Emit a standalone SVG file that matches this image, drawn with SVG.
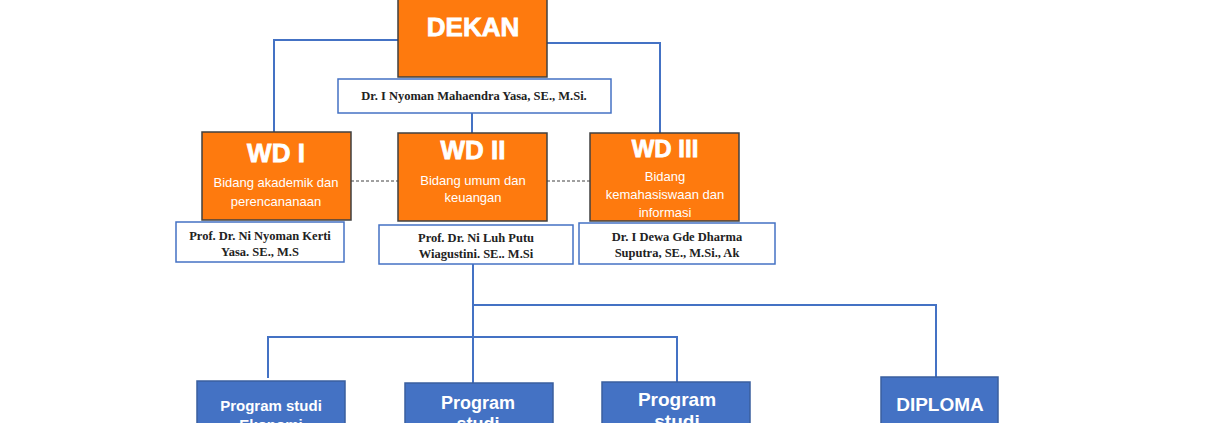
<svg xmlns="http://www.w3.org/2000/svg" width="1210" height="423" viewBox="0 0 1210 423">
<style>
.o{fill:#fe7a0e;stroke:#404040;stroke-width:1.5}
.w{fill:#fff;stroke:#4472c4;stroke-width:1.5}
.b{fill:#4472c4;stroke:#3a5f9e;stroke-width:1.5}
.l{fill:none;stroke:#4472c4;stroke-width:2}
.d{fill:none;stroke:#404040;stroke-width:1;stroke-dasharray:3,2}
.h{font-family:"Liberation Sans",Arial,sans-serif;font-weight:bold;fill:#fff;text-anchor:middle;stroke:#fff;stroke-width:0.8}
.s{font-family:"Liberation Sans",Arial,sans-serif;fill:#fff;text-anchor:middle;font-size:13px}
.n{font-family:"Liberation Serif","Times New Roman",serif;font-weight:bold;fill:#222;text-anchor:middle;font-size:12.5px}
.p{font-family:"Liberation Sans",Arial,sans-serif;font-weight:bold;fill:#fff;text-anchor:middle}
</style>
<rect width="1210" height="423" fill="#fff"/>
<g id="connectors">
<polyline class="l" points="398,40 274,40 274,132"/>
<polyline class="l" points="547,43 660,43 660,133"/>
<line class="l" x1="472" y1="113" x2="472" y2="133"/>
<line class="d" x1="351" y1="181" x2="398" y2="181"/>
<line class="d" x1="547" y1="181" x2="590" y2="181"/>
<line class="l" x1="473" y1="264" x2="473" y2="383"/>
<polyline class="l" points="473,305 936,305 936,377"/>
<polyline class="l" points="268,378 268,337 677,337 677,382"/>
</g>
<g id="dekan"><rect class="o" x="398" y="-1" width="149" height="78"/><text class="h" x="473" y="36" font-size="26">DEKAN</text></g>
<g id="dekan-name"><rect class="w" x="338" y="79" width="273" height="34"/><text class="n" x="474" y="100">Dr. I Nyoman Mahaendra Yasa, SE., M.Si.</text></g>
<g id="wd1"><rect class="o" x="202" y="132" width="149" height="88"/><text class="h" x="276" y="162" font-size="26">WD I</text><text class="s" x="276" y="187">Bidang akademik dan</text><text class="s" x="276" y="206">perencananaan</text></g>
<g id="wd2"><rect class="o" x="398" y="133" width="149" height="88"/><text class="h" x="473" y="159" font-size="26">WD II</text><text class="s" x="473" y="185">Bidang umum dan</text><text class="s" x="473" y="202">keuangan</text></g>
<g id="wd3"><rect class="o" x="590" y="133" width="149" height="88"/><text class="h" x="665" y="157" font-size="24">WD III</text><text class="s" x="665" y="181">Bidang</text><text class="s" x="665" y="199">kemahasiswaan dan</text><text class="s" x="665" y="217">informasi</text></g>
<g id="wd1-name"><rect class="w" x="176" y="222" width="168" height="40"/><text class="n" x="260" y="240">Prof. Dr. Ni Nyoman Kerti</text><text class="n" x="260" y="256">Yasa. SE., M.S</text></g>
<g id="wd2-name"><rect class="w" x="379" y="225" width="194" height="39"/><text class="n" x="476" y="242">Prof. Dr. Ni Luh Putu</text><text class="n" x="476" y="258">Wiagustini. SE.. M.Si</text></g>
<g id="wd3-name"><rect class="w" x="579" y="223" width="196" height="41"/><text class="n" x="677" y="241">Dr. I Dewa Gde Dharma</text><text class="n" x="677" y="257">Suputra, SE., M.Si., Ak</text></g>
<g id="ps1"><rect class="b" x="197" y="381" width="148" height="50"/><text class="p" x="271" y="411" font-size="15">Program studi</text><text class="p" x="271" y="430" font-size="15">Ekonomi</text></g>
<g id="ps2"><rect class="b" x="405" y="383" width="148" height="50"/><text class="p" x="478" y="409" font-size="18">Program</text><text class="p" x="478" y="430" font-size="18">studi</text></g>
<g id="ps3"><rect class="b" x="602" y="382" width="148" height="50"/><text class="p" x="677" y="406" font-size="19">Program</text><text class="p" x="677" y="428" font-size="19">studi</text></g>
<g id="diploma"><rect class="b" x="881" y="377" width="117" height="55"/><text class="p" x="940" y="411" font-size="19">DIPLOMA</text></g>
</svg>
